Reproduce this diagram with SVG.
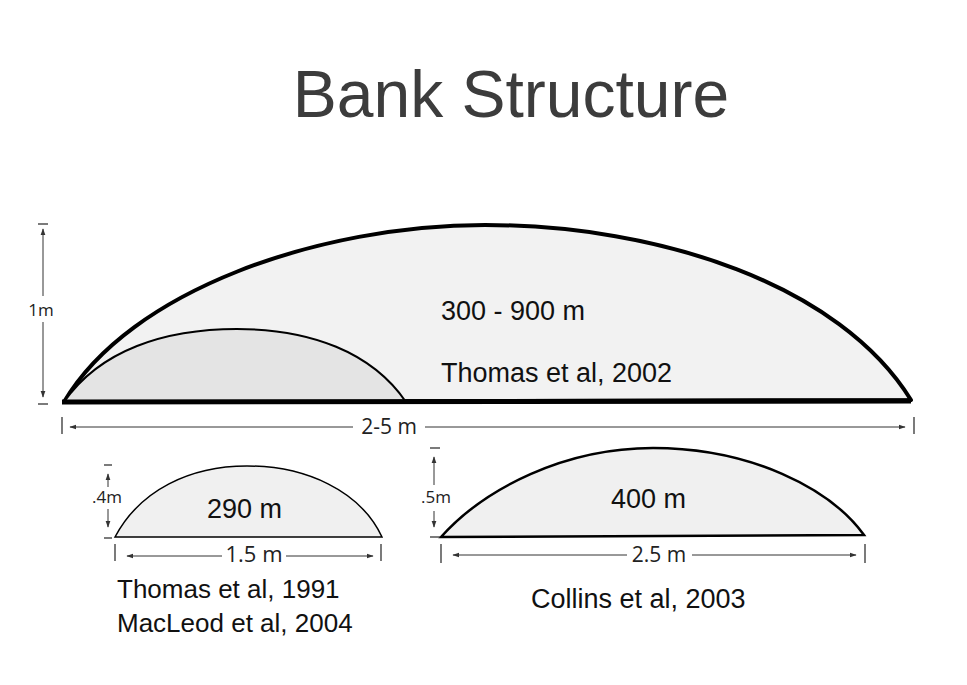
<svg xmlns="http://www.w3.org/2000/svg" width="967" height="685" viewBox="0 0 967 685">
<style>
.dim{stroke:#333;stroke-width:1;fill:none}
.tk{stroke:#333;stroke-width:1.3}
.dl{font-family:"Open Sans","DejaVu Sans",sans-serif;fill:#222}
.t{font-family:"Liberation Sans",Arial,sans-serif;font-size:27px;fill:#111}
.s{font-family:"Liberation Sans",Arial,sans-serif;font-size:26px;fill:#111}
</style>
<defs>
<marker id="ah" viewBox="0 0 10 10" refX="9" refY="5" markerWidth="7" markerHeight="7" orient="auto-start-reverse" markerUnits="userSpaceOnUse">
<path d="M0,1.5 L10,5 L0,8.5 Z" fill="#333"/>
</marker>
</defs>
<rect width="967" height="685" fill="#fff"/>
<text x="511" y="117" text-anchor="middle" font-family="Liberation Sans,Arial,sans-serif" font-size="66" fill="#3c3c3c">Bank Structure</text>

<g id="big-bank">
<path d="M64,402 C 130,290 320,225 485,225 C 660,225 840,285 911,400 Z" fill="#f2f2f2" stroke="#000" stroke-width="4" stroke-linejoin="round"/>
<text class="t" x="441" y="320">300 - 900 m</text>
<text class="t" x="441" y="382">Thomas et al, 2002</text>
</g>
<g id="inner-bank">
<path d="M64,402 C 100,350 165,329 237,329 C 310,329 372,352 406,402 Z" fill="#e4e4e4" stroke="#000" stroke-width="2"/>
<line x1="62" y1="402" x2="911" y2="401" stroke="#000" stroke-width="5"/>
</g>
<g id="bank-1991">
<path d="M115,537 C 140,490 190,466 247,466 C 305,466 360,490 382,537 Z" fill="#f0f0f0" stroke="#000" stroke-width="1.5"/>
<text class="t" x="207" y="518">290 m</text>
<text class="s" x="117" y="598">Thomas et al, 1991</text>
<text class="s" x="117" y="632">MacLeod et al, 2004</text>
</g>
<g id="bank-2003">
<path d="M441,537 C 485,488 565,448 653,448 C 750,448 830,488 864,535 Z" fill="#f0f0f0" stroke="#000" stroke-width="2.5"/>
<text class="t" x="611" y="508">400 m</text>
<text class="t" x="531" y="608">Collins et al, 2003</text>
</g>

<g id="connectors">
<line class="tk" x1="38" y1="224" x2="48" y2="224"/>
<line class="tk" x1="38" y1="404" x2="48" y2="404"/>
<line class="dim" x1="43" y1="296" x2="43" y2="229" marker-end="url(#ah)"/>
<line class="dim" x1="43" y1="322" x2="43" y2="397" marker-end="url(#ah)"/>
<text class="dl" x="41" y="316" font-size="17" text-anchor="middle">1m</text>
<line class="tk" x1="62" y1="417" x2="62" y2="434"/>
<line class="tk" x1="914" y1="417" x2="914" y2="434"/>
<line class="dim" x1="353" y1="427" x2="70" y2="427" marker-end="url(#ah)"/>
<line class="dim" x1="425" y1="427" x2="905" y2="427" marker-end="url(#ah)"/>
<text class="dl" x="389" y="434" font-size="21" text-anchor="middle">2-5 m</text>
<line class="tk" x1="104" y1="465" x2="112" y2="465"/>
<line class="tk" x1="104" y1="538" x2="112" y2="538"/>
<line class="dim" x1="108" y1="487" x2="108" y2="474" marker-end="url(#ah)"/>
<line class="dim" x1="108" y1="509" x2="108" y2="527" marker-end="url(#ah)"/>
<text class="dl" x="107" y="503" font-size="17" text-anchor="middle">.4m</text>
<line class="tk" x1="115" y1="544" x2="115" y2="561"/>
<line class="tk" x1="381" y1="544" x2="381" y2="561"/>
<line class="dim" x1="222" y1="556" x2="127" y2="556" marker-end="url(#ah)"/>
<line class="dim" x1="286" y1="556" x2="373" y2="556" marker-end="url(#ah)"/>
<text class="dl" x="254" y="562" font-size="22" text-anchor="middle">1.5 m</text>
<line class="tk" x1="430" y1="448" x2="440" y2="448"/>
<line class="tk" x1="430" y1="537" x2="440" y2="537"/>
<line class="dim" x1="434" y1="485" x2="434" y2="457" marker-end="url(#ah)"/>
<line class="dim" x1="434" y1="511" x2="434" y2="527" marker-end="url(#ah)"/>
<text class="dl" x="436" y="503" font-size="17" text-anchor="middle">.5m</text>
<line class="tk" x1="441" y1="544" x2="441" y2="563"/>
<line class="tk" x1="865" y1="544" x2="865" y2="563"/>
<line class="dim" x1="627" y1="555" x2="453" y2="555" marker-end="url(#ah)"/>
<line class="dim" x1="692" y1="555" x2="856" y2="555" marker-end="url(#ah)"/>
<text class="dl" x="659" y="562" font-size="21" text-anchor="middle">2.5 m</text>
</g>
</svg>
